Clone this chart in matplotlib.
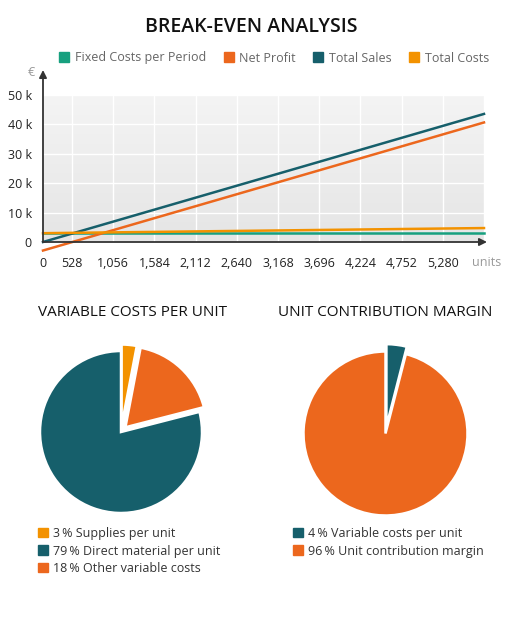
import numpy as np
import matplotlib
matplotlib.use("Agg")
import matplotlib.pyplot as plt
from matplotlib.colors import LinearSegmentedColormap
from matplotlib.patches import Patch

plt.rcParams['font.family'] = ['Open Sans', 'DejaVu Sans']

# break-even data
units = [0, 528, 1056, 1584, 2112, 2640, 3168, 3696, 4224, 4752, 5280, 5808]
fixed_costs = [3000, 3000, 3000, 3000, 3000, 3000, 3000, 3000, 3000, 3000, 3000, 3000]
net_profit = [-2900, 1060, 5020, 8980, 12940, 16900, 20860, 24820, 28780, 32740, 36700, 40660]
total_sales = [0, 3960, 7920, 11880, 15840, 19800, 23760, 27720, 31680, 35640, 39600, 43560]
total_costs = [3000, 3158, 3317, 3475, 3634, 3792, 3950, 4109, 4267, 4426, 4584, 4742]

tick_units = [0, 528, 1056, 1584, 2112, 2640, 3168, 3696, 4224, 4752, 5280]
y_ticks = [0, 10000, 20000, 30000, 40000, 50000]
y_labels = ['0', '10 k', '20 k', '30 k', '40 k', '50 k']

# pies
var_labels = ['Supplies per unit', 'Direct material per unit', 'Other variable costs']
var_values = [3, 79, 18]
margin_labels = ['Variable costs per unit', 'Unit contribution margin']
margin_values = [4, 96]

C_FIXED = '#17a07f'
C_PROFIT = '#ec671d'
C_SALES = '#165f6b'
C_COSTS = '#f39200'

W, H = 520, 618
fig = plt.figure(figsize=(W / 100, H / 100), dpi=100)

def fx(px):
    return px / W

def fy(py):
    return 1 - py / H

fig.text(fx(251), fy(27), 'BREAK-EVEN ANALYSIS', ha='center', va='center',
         fontsize=14, fontweight='semibold', color='#111111')

# ---- line chart ----
ax = fig.add_axes([fx(43), fy(242), (484 - 43) / W, (242 - 95) / H])
xmax = units[-1]
ax.set_xlim(0, xmax)
ax.set_ylim(0, 50000)

cmap = LinearSegmentedColormap.from_list('bg', ['#f4f4f4', '#e5e5e5'])
ax.imshow(np.linspace(0, 1, 256).reshape(-1, 1), cmap=cmap, aspect='auto',
          extent=(0, xmax, 0, 50000), zorder=0)

# grid bands are slightly wider than the data spacing in the original
tick_pos = [max(0, xmax - (xmax - t) * 1.0276) for t in tick_units]
for p in tick_pos[1:] + [xmax]:
    ax.axvline(p, color='white', lw=1.0, zorder=1)
for yv in y_ticks[1:]:
    ax.axhline(yv, color='white', lw=1.0, zorder=1)

ax.plot(units, fixed_costs, color=C_FIXED, lw=1.8, zorder=3, clip_on=False)
ax.plot(units, net_profit, color=C_PROFIT, lw=1.8, zorder=3, clip_on=False)
ax.plot(units, total_sales, color=C_SALES, lw=1.8, zorder=3, clip_on=False)
ax.plot(units, total_costs, color=C_COSTS, lw=1.8, zorder=4, clip_on=False)

for s in ax.spines.values():
    s.set_visible(False)
ax.set_xticks(tick_pos)
ax.set_xticklabels([f'{t:,}' for t in tick_units])
ax.set_yticks(y_ticks)
ax.set_yticklabels(y_labels)
ax.tick_params(axis='both', length=0, labelsize=9, labelcolor='#222222')
ax.tick_params(axis='y', pad=8)
ax.tick_params(axis='x', pad=11)

# axis arrows
ax.annotate('', xy=(0, (242 - 70) / 147), xytext=(0, 0), xycoords='axes fraction',
            arrowprops=dict(arrowstyle='-|>', color='#333333', lw=1.3,
                            mutation_scale=11, shrinkA=0, shrinkB=0), zorder=6)
ax.annotate('', xy=((487 - 43) / 441, 0), xytext=(0, 0), xycoords='axes fraction',
            arrowprops=dict(arrowstyle='-|>', color='#333333', lw=1.3,
                            mutation_scale=11, shrinkA=0, shrinkB=0), zorder=6)
fig.text(fx(31), fy(73), '€', ha='center', va='center', fontsize=9, color='#999999')
fig.text(fx(487), fy(262), 'units', ha='center', va='center', fontsize=9, color='#999999')

handles = [Patch(color=C_FIXED), Patch(color=C_PROFIT), Patch(color=C_SALES), Patch(color=C_COSTS)]
fig.legend(handles, ['Fixed Costs per Period', 'Net Profit', 'Total Sales', 'Total Costs'],
           loc='center', bbox_to_anchor=(fx(274), fy(58)), ncol=4, frameon=False,
           fontsize=9, labelcolor='#666666', handlelength=0.8, handleheight=0.8,
           handletextpad=0.45, columnspacing=1.4, borderpad=0)

# ---- pies ----
def pie_axes(cx, cy, r):
    pad = 1.15
    ax_p = fig.add_axes([fx(cx - r * pad), fy(cy + r * pad), 2 * r * pad / W, 2 * r * pad / H])
    ax_p.axis('off')
    return ax_p

ax1 = pie_axes(121, 432, 81)
ax1.pie(var_values, colors=[C_COSTS, C_SALES, C_PROFIT], startangle=90 - 3.6 * var_values[0],
        counterclock=True, explode=[0.08, 0, 0.08],
        wedgeprops=dict(edgecolor='white', linewidth=1.8))
ax1.set_xlim(-1.15, 1.15)
ax1.set_ylim(-1.15, 1.15)
fig.text(fx(133), fy(313), 'VARIABLE COSTS PER UNIT', ha='center', va='center',
         fontsize=11, color='#111111')
fig.legend([Patch(color=c) for c in [C_COSTS, C_SALES, C_PROFIT]],
           [f'{v}\u2009% {l}' for v, l in zip(var_values, var_labels)],
           loc='upper left', bbox_to_anchor=(fx(38), fy(527)), frameon=False,
           fontsize=9, labelcolor='#333333', handlelength=0.8, handleheight=0.8,
           handletextpad=0.4, labelspacing=0.36, borderpad=0, borderaxespad=0)

ax2 = pie_axes(385.5, 433.5, 82)
ax2.pie(margin_values, colors=[C_SALES, C_PROFIT], startangle=90 - 3.6 * margin_values[0],
        counterclock=True, explode=[0.09, 0],
        wedgeprops=dict(edgecolor='white', linewidth=1.8))
ax2.set_xlim(-1.15, 1.15)
ax2.set_ylim(-1.15, 1.15)
fig.text(fx(385), fy(313), 'UNIT CONTRIBUTION MARGIN', ha='center', va='center',
         fontsize=11, color='#111111')
fig.legend([Patch(color=c) for c in [C_SALES, C_PROFIT]],
           [f'{v}\u2009% {l}' for v, l in zip(margin_values, margin_labels)],
           loc='upper left', bbox_to_anchor=(fx(293), fy(527)), frameon=False,
           fontsize=9, labelcolor='#333333', handlelength=0.8, handleheight=0.8,
           handletextpad=0.4, labelspacing=0.36, borderpad=0, borderaxespad=0)

fig.savefig('out.png', dpi=100, facecolor='white')
